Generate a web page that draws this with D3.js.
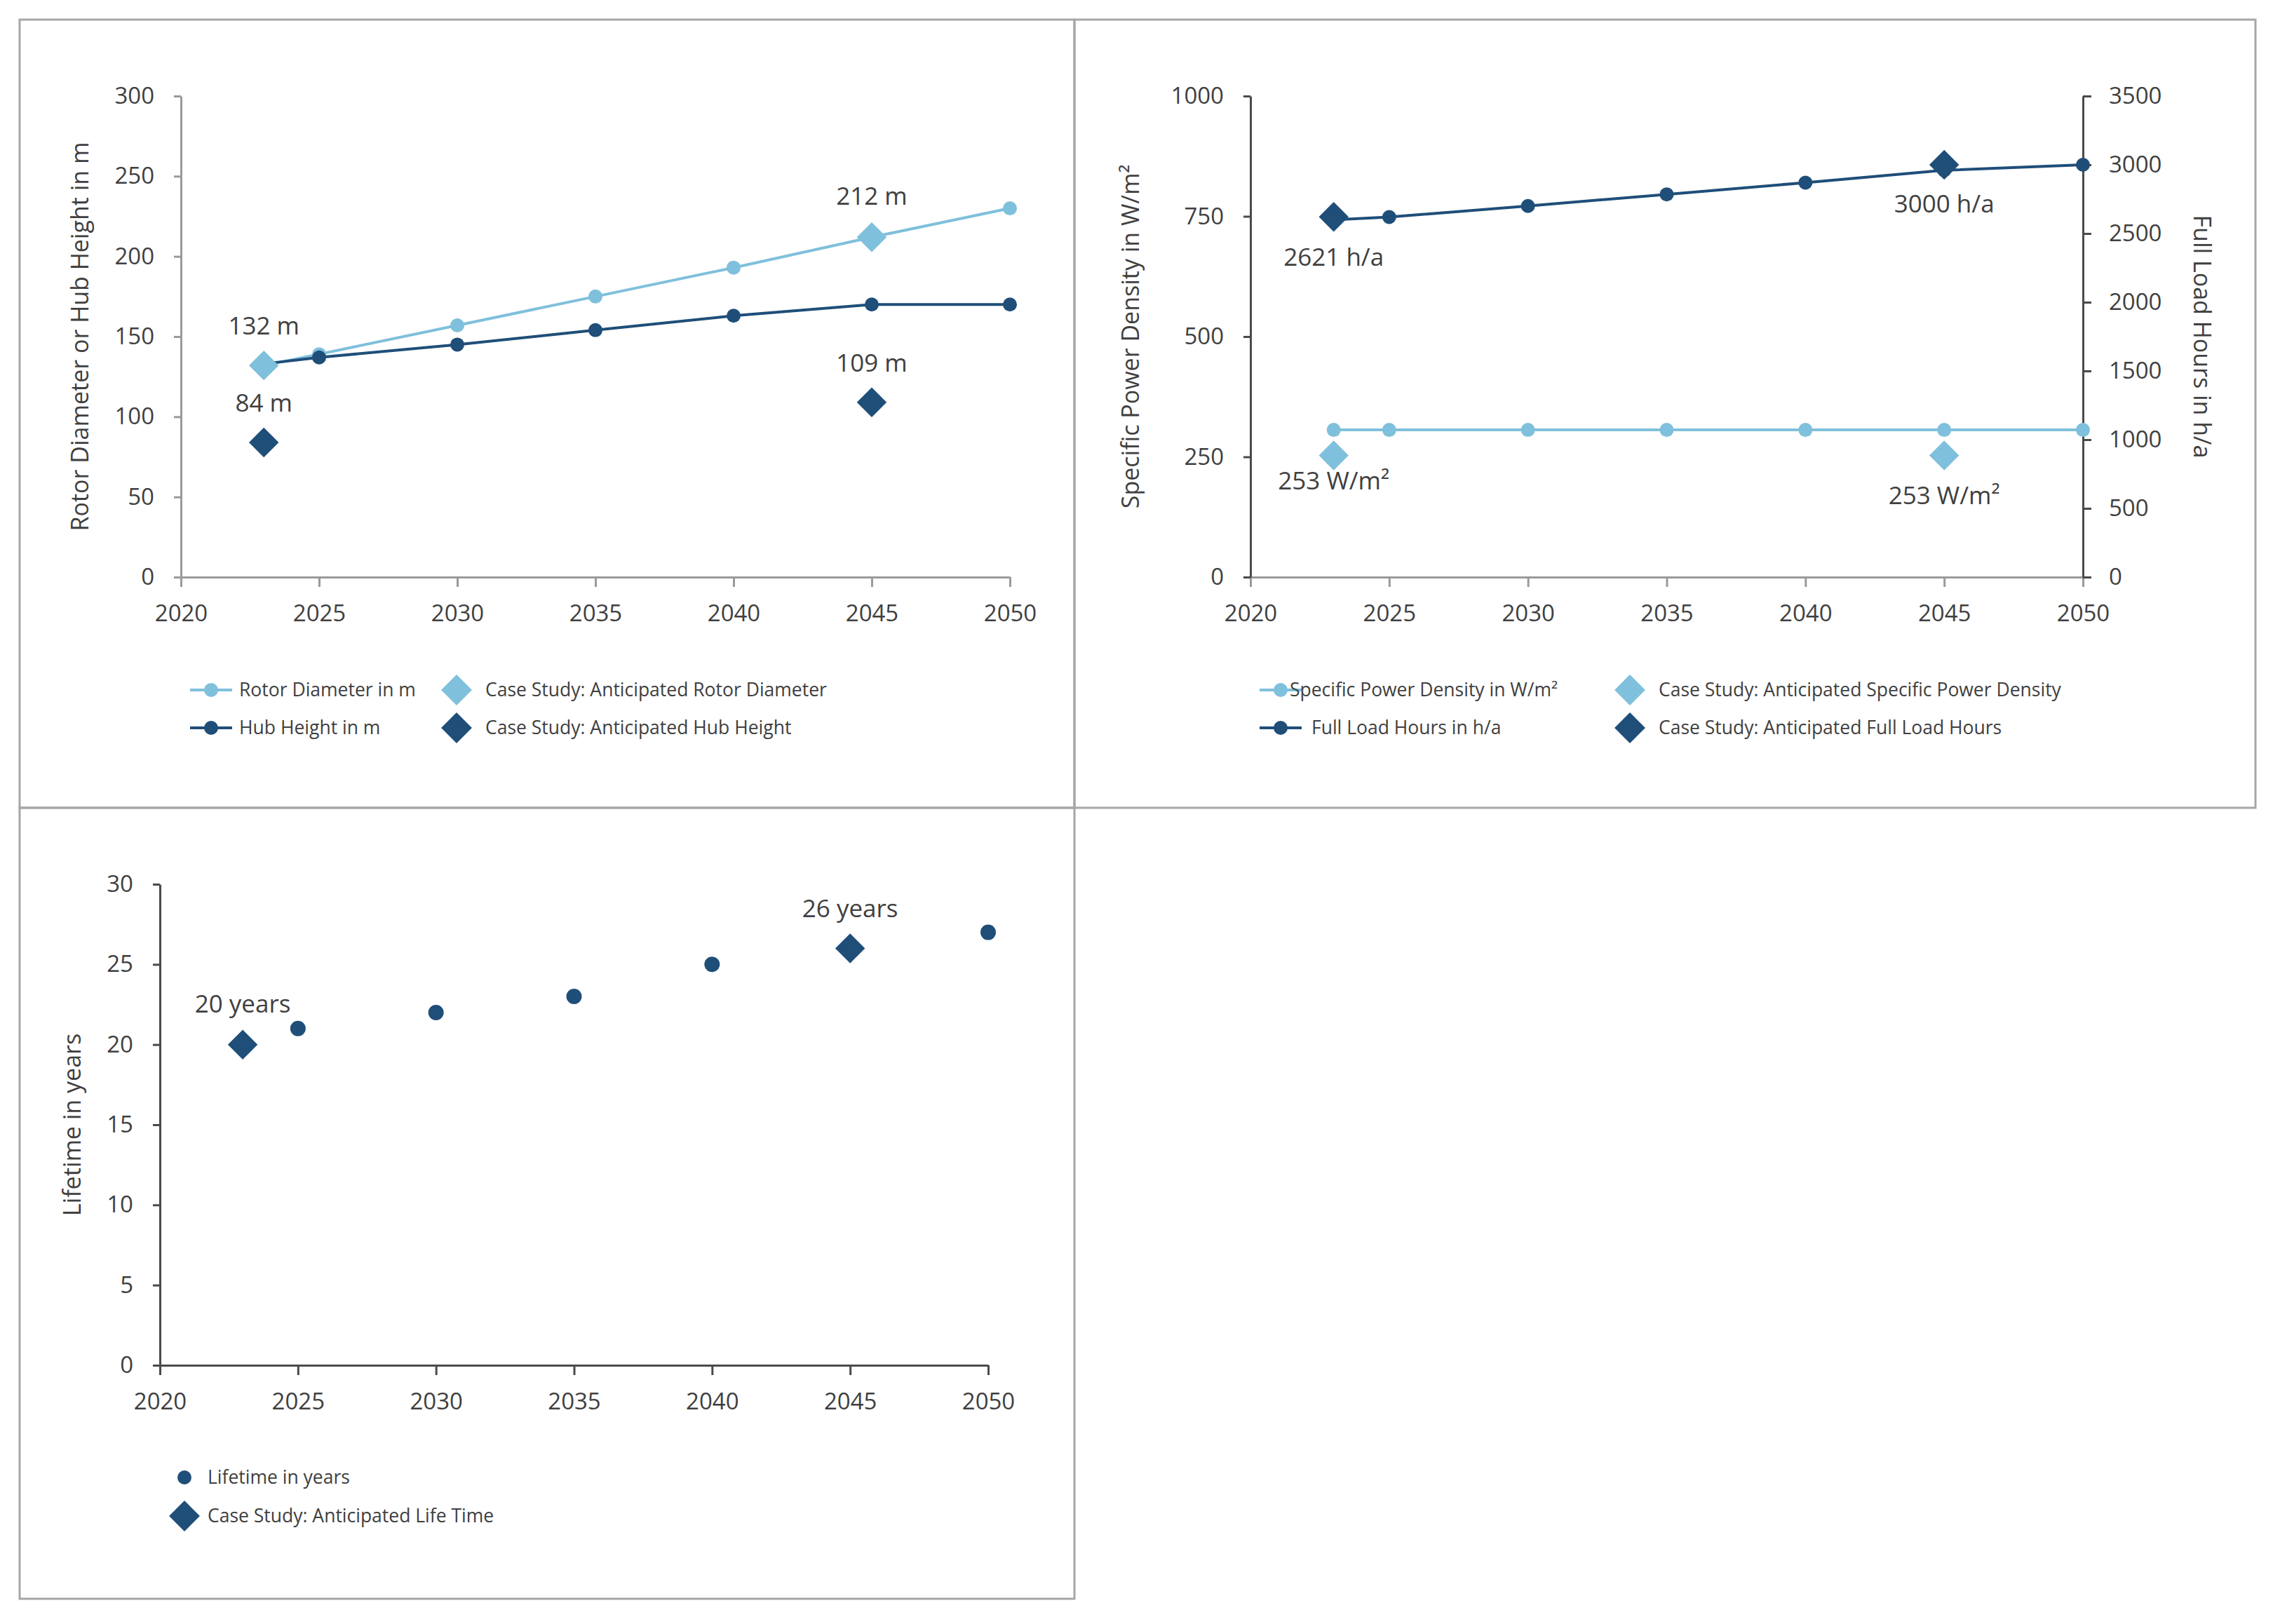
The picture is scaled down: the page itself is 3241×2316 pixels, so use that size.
<!DOCTYPE html>
<html>
<head>
<meta charset="utf-8">
<script src="https://cdn.jsdelivr.net/npm/d3@7"></script>
<style>
  body { margin: 0; background: #fff; }
  text { font-family: "Open Sans", "Noto Sans", sans-serif; fill: #404040; }
</style>
</head>
<body>
<svg id="chart" width="3241" height="2316"></svg>
<script>
// data
var years = [2023, 2025, 2030, 2035, 2040, 2045, 2050];
var xTicks = [2020, 2025, 2030, 2035, 2040, 2045, 2050];
var caseYears = [2023, 2045];

var rotorDiameter = [132, 139, 157, 175, 193, 212, 230];
var hubHeight = [133, 137, 145, 154, 163, 170, 170];
var caseRotor = [132, 212];
var caseHub = [84, 109];

var powerDensity = [306, 306, 306, 306, 306, 306, 306];
var fullLoadHours = [2600, 2620, 2700, 2785, 2870, 2960, 3000];
var casePower = [253, 253];
var caseHours = [2621, 3000];

var lifeYears = [2025, 2030, 2035, 2040, 2050];
var lifetime = [21, 22, 23, 25, 27];
var caseLife = [20, 26];

var light = "#7fc0dc", dark = "#1f4e79";
var axisGray = "#9a9a9a", axisDark = "#4a4a4a";

var svg = d3.select("#chart");

// panel frames
var frames = [[28, 28, 1504, 1124], [1532, 28, 1684, 1124], [28, 1152, 1504, 1128]];
svg.selectAll("rect.frame").data(frames).enter().append("rect")
  .attr("class", "frame")
  .attr("x", function(d) { return d[0]; })
  .attr("y", function(d) { return d[1]; })
  .attr("width", function(d) { return d[2]; })
  .attr("height", function(d) { return d[3]; })
  .attr("fill", "none").attr("stroke", "#a6a6a6").attr("stroke-width", 3);

function styleAxis(g, color) {
  g.selectAll(".domain").attr("stroke", color).attr("stroke-width", 3);
  g.selectAll(".tick line").attr("stroke", color).attr("stroke-width", 3);
  g.selectAll(".tick text").attr("font-size", 33).attr("fill", "#404040")
    .style("font-family", "'Open Sans', sans-serif");
}

function xAxis(x, y0, color) {
  var g = svg.append("g").attr("transform", "translate(0," + y0 + ")")
    .call(d3.axisBottom(x).tickValues(xTicks).tickFormat(d3.format("d"))
      .tickSize(14).tickSizeOuter(0).tickPadding(26));
  styleAxis(g, color);
}
function yAxis(y, x0, ticks, color) {
  var g = svg.append("g").attr("transform", "translate(" + x0 + ",0)")
    .call(d3.axisLeft(y).tickValues(ticks).tickFormat(d3.format("d"))
      .tickSize(10).tickSizeOuter(0).tickPadding(28));
  styleAxis(g, color);
}
function yAxisRight(y, x0, ticks, color) {
  var g = svg.append("g").attr("transform", "translate(" + x0 + ",0)")
    .call(d3.axisRight(y).tickValues(ticks).tickFormat(d3.format("d"))
      .tickSize(12).tickSizeOuter(0).tickPadding(25));
  styleAxis(g, color);
}
function axisTitle(text, x, y, rot) {
  svg.append("text").attr("transform", "translate(" + x + "," + y + ") rotate(" + rot + ")")
    .attr("text-anchor", "middle").attr("dy", "0.35em")
    .attr("font-size", 34).text(text);
}

var diamond = d3.symbol().type(d3.symbolSquare).size(900);
var diamondLegend = d3.symbol().type(d3.symbolSquare).size(960);

function drawLine(x, y, xs, vs, color) {
  var pts = xs.map(function(d, i) { return [d, vs[i]]; });
  svg.append("path").datum(pts)
    .attr("fill", "none").attr("stroke", color).attr("stroke-width", 4)
    .attr("d", d3.line().x(function(d) { return x(d[0]); }).y(function(d) { return y(d[1]); }));
}
function drawDots(x, y, xs, vs, color, r) {
  svg.append("g").selectAll("circle").data(xs).enter().append("circle")
    .attr("cx", function(d) { return x(d); })
    .attr("cy", function(d, i) { return y(vs[i]); })
    .attr("r", r).attr("fill", color);
}
function drawDiamonds(x, y, xs, vs, color) {
  svg.append("g").selectAll("path").data(xs).enter().append("path")
    .attr("d", diamond)
    .attr("transform", function(d, i) { return "translate(" + x(d) + "," + y(vs[i]) + ") rotate(45)"; })
    .attr("fill", color);
}
function drawLabels(x, y, xs, vs, texts, offsets) {
  svg.append("g").selectAll("text").data(xs).enter().append("text")
    .attr("x", function(d) { return x(d); })
    .attr("y", function(d, i) { return y(vs[i]) + offsets[i]; })
    .attr("dy", "0.35em").attr("text-anchor", "middle").attr("font-size", 35)
    .text(function(d, i) { return texts[i]; });
}

function legendLine(lx, ly, color, label, tx) {
  svg.append("line").attr("x1", lx).attr("x2", lx + 60).attr("y1", ly).attr("y2", ly)
    .attr("stroke", color).attr("stroke-width", 4);
  svg.append("circle").attr("cx", lx + 30).attr("cy", ly).attr("r", 10).attr("fill", color);
  svg.append("text").attr("x", tx).attr("y", ly).attr("dy", "0.35em")
    .attr("font-size", 26.5).text(label);
}
function legendDiamond(lx, ly, color, label, tx) {
  svg.append("path").attr("d", diamondLegend)
    .attr("transform", "translate(" + lx + "," + ly + ") rotate(45)").attr("fill", color);
  svg.append("text").attr("x", tx).attr("y", ly).attr("dy", "0.35em")
    .attr("font-size", 26.5).text(label);
}
function legendDot(lx, ly, color, label, tx) {
  svg.append("circle").attr("cx", lx).attr("cy", ly).attr("r", 10).attr("fill", color);
  svg.append("text").attr("x", tx).attr("y", ly).attr("dy", "0.35em")
    .attr("font-size", 26.5).text(label);
}

// ---- panel 1: rotor diameter / hub height
var x1 = d3.scaleLinear().domain([2020, 2050]).range([258, 1440]);
var y1 = d3.scaleLinear().domain([0, 300]).range([823, 137]);
xAxis(x1, 823, axisGray);
yAxis(y1, 258, [0, 50, 100, 150, 200, 250, 300], axisGray);
axisTitle("Rotor Diameter or Hub Height in m", 114, 480, -90);

drawLine(x1, y1, years, rotorDiameter, light);
drawDots(x1, y1, years, rotorDiameter, light, 10);
drawLine(x1, y1, years, hubHeight, dark);
drawDots(x1, y1, years, hubHeight, dark, 10);
drawDiamonds(x1, y1, caseYears, caseRotor, light);
drawDiamonds(x1, y1, caseYears, caseHub, dark);
drawLabels(x1, y1, caseYears, caseRotor, caseRotor.map(function(v) { return v + " m"; }), [-56, -58]);
drawLabels(x1, y1, caseYears, caseHub, caseHub.map(function(v) { return v + " m"; }), [-56, -56]);

legendLine(271, 984, light, "Rotor Diameter in m", 341);
legendLine(271, 1038, dark, "Hub Height in m", 341);
legendDiamond(651, 984, light, "Case Study: Anticipated Rotor Diameter", 692);
legendDiamond(651, 1038, dark, "Case Study: Anticipated Hub Height", 692);

// ---- panel 2: specific power density / full load hours
var x2 = d3.scaleLinear().domain([2020, 2050]).range([1783, 2970]);
var y2 = d3.scaleLinear().domain([0, 1000]).range([823, 137]);
var y2r = d3.scaleLinear().domain([0, 3500]).range([823, 137]);
xAxis(x2, 823, axisGray);
yAxis(y2, 1783, [0, 250, 500, 750, 1000], axisDark);
yAxisRight(y2r, 2970, [0, 500, 1000, 1500, 2000, 2500, 3000, 3500], axisDark);
axisTitle("Specific Power Density in W/m²", 1612, 480, -90);
axisTitle("Full Load Hours in h/a", 3140, 480, 90);

drawLine(x2, y2, years, powerDensity, light);
drawDots(x2, y2, years, powerDensity, light, 10);
drawLine(x2, y2r, years, fullLoadHours, dark);
drawDots(x2, y2r, years, fullLoadHours, dark, 10);
drawDiamonds(x2, y2, caseYears, casePower, light);
drawDiamonds(x2, y2r, caseYears, caseHours, dark);
drawLabels(x2, y2r, caseYears, caseHours, caseHours.map(function(v) { return v + " h/a"; }), [57, 56]);
drawLabels(x2, y2, caseYears, casePower, casePower.map(function(v) { return v + " W/m²"; }), [36, 57]);

legendLine(1796, 984, light, "Specific Power Density in W/m²", 1839);
legendLine(1796, 1038, dark, "Full Load Hours in h/a", 1870);
legendDiamond(2324, 984, light, "Case Study: Anticipated Specific Power Density", 2365);
legendDiamond(2324, 1038, dark, "Case Study: Anticipated Full Load Hours", 2365);

// ---- panel 3: lifetime
var x3 = d3.scaleLinear().domain([2020, 2050]).range([228, 1409]);
var y3 = d3.scaleLinear().domain([0, 30]).range([1947, 1261]);
xAxis(x3, 1947, axisDark);
yAxis(y3, 228, [0, 5, 10, 15, 20, 25, 30], axisDark);
axisTitle("Lifetime in years", 103, 1604, -90);

drawDots(x3, y3, lifeYears, lifetime, dark, 11);
drawDiamonds(x3, y3, caseYears, caseLife, dark);
drawLabels(x3, y3, caseYears, caseLife, caseLife.map(function(v) { return v + " years"; }), [-58, -57]);

legendDot(263, 2107, dark, "Lifetime in years", 296);
legendDiamond(263, 2162, dark, "Case Study: Anticipated Life Time", 296);
</script>
</body>
</html>
